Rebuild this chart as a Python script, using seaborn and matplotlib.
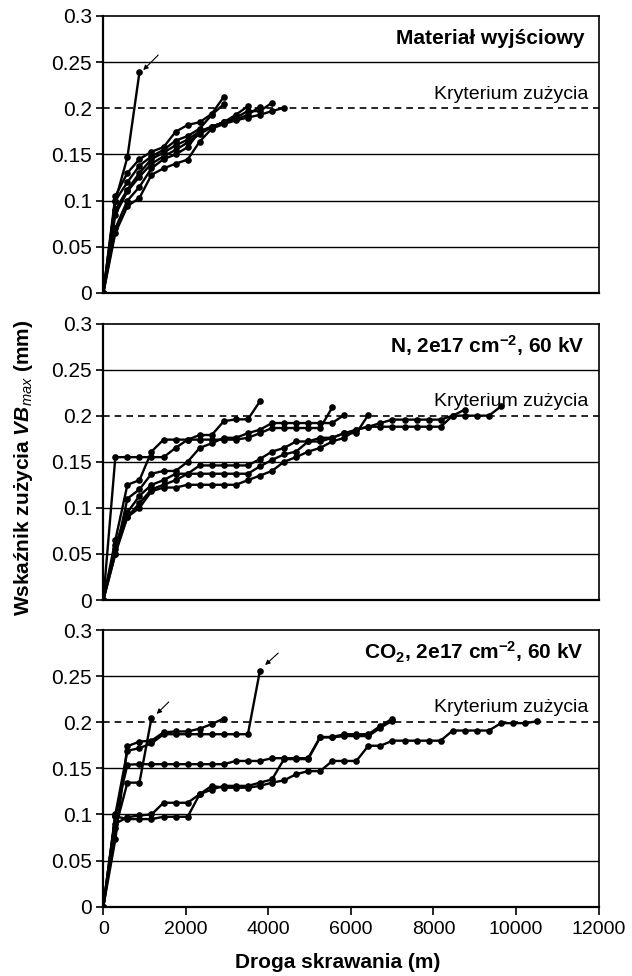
import numpy as np
import pandas as pd
import matplotlib
matplotlib.use("Agg")
import matplotlib.pyplot as plt
import seaborn as sns

# ---------------- data ----------------
# Panel 1: Materiał wyjściowy
t1_x = [0, 292, 584, 876]
t1_y = [0, 0.100, 0.147, 0.239]
t2_x = [0, 292, 584, 876, 1168, 1460, 1752, 2044, 2336, 2628, 2920]
t2_y = [0, 0.105, 0.130, 0.145, 0.153, 0.158, 0.1746, 0.182, 0.185, 0.194, 0.2125]
t3_x = [0, 292, 584, 876, 1168, 1460, 1752, 2044, 2336, 2628, 2920]
t3_y = [0, 0.100, 0.120, 0.138, 0.148, 0.155, 0.165, 0.170, 0.178, 0.193, 0.2045]
t4_x = [0, 292, 584, 876, 1168, 1460, 1752, 2044, 2336, 2628, 2920, 3212, 3504]
t4_y = [0, 0.090, 0.112, 0.130, 0.145, 0.152, 0.160, 0.166, 0.175, 0.180, 0.185, 0.193, 0.2024]
t5_x = [0, 292, 584, 876, 1168, 1460, 1752, 2044, 2336, 2628, 2920, 3212, 3504, 3796]
t5_y = [0, 0.085, 0.110, 0.126, 0.140, 0.148, 0.155, 0.163, 0.172, 0.180, 0.185, 0.188, 0.193, 0.2017]
t6_x = [0, 292, 584, 876, 1168, 1460, 1752, 2044, 2336, 2628, 2920, 3212, 3504, 3796, 4088]
t6_y = [0, 0.070, 0.100, 0.115, 0.135, 0.145, 0.150, 0.158, 0.175, 0.180, 0.185, 0.190, 0.197, 0.197, 0.206]
t7_x = [0, 292, 584, 876, 1168, 1460, 1752, 2044, 2336, 2628, 2920, 3212, 3504, 3796, 4088, 4380]
t7_y = [0, 0.065, 0.094, 0.103, 0.128, 0.135, 0.140, 0.1445, 0.164, 0.178, 0.183, 0.187, 0.190, 0.193, 0.197, 0.2006]

# Panel 2: N, 2e17 cm-2, 60 kV
m1_x = [0, 292, 584, 876, 1168, 1460, 1752, 2044, 2336, 2628, 2920, 3212, 3504, 3796]
m1_y = [0, 0.065, 0.125, 0.130, 0.161, 0.174, 0.174, 0.174, 0.179, 0.179, 0.194, 0.196, 0.196, 0.2156]
m2_x = [0, 292, 584, 876, 1168, 1460, 1752, 2044, 2336, 2628, 2920, 3212, 3504, 3796, 4088,
        4380, 4672, 4964, 5256, 5548]
m2_y = [0, 0.155, 0.155, 0.155, 0.155, 0.155, 0.165, 0.174, 0.174, 0.174, 0.174, 0.174, 0.176,
        0.181, 0.1866, 0.1866, 0.1866, 0.1866, 0.1866, 0.209]
m3_x = [0, 292, 584, 876, 1168, 1460, 1752, 2044, 2336, 2628, 2920, 3212, 3504, 3796, 4088,
        4380, 4672, 4964, 5256, 5548, 5840]
m3_y = [0, 0.050, 0.110, 0.120, 0.137, 0.140, 0.140, 0.150, 0.165, 0.170, 0.176, 0.176, 0.181,
        0.1848, 0.192, 0.192, 0.192, 0.192, 0.192, 0.192, 0.201]
m4_x = [0, 292, 584, 876, 1168, 1460, 1752, 2044, 2336, 2628, 2920, 3212, 3504, 3796, 4088,
        4380, 4672, 4964, 5256, 5548, 5840, 6132, 6424]
m4_y = [0, 0.060, 0.095, 0.113, 0.125, 0.130, 0.137, 0.137, 0.146, 0.146, 0.146, 0.146, 0.146,
        0.153, 0.161, 0.165, 0.172, 0.172, 0.176, 0.176, 0.181, 0.181, 0.201]
m5_x = [0, 292, 584, 876, 1168, 1460, 1752, 2044, 2336, 2628, 2920, 3212, 3504, 3796, 4088,
        4380, 4672, 4964, 5256, 5548, 5840, 6132, 6424, 6716, 7008, 7300, 7592, 7884, 8176,
        8468, 8760]
m5_y = [0, 0.055, 0.090, 0.105, 0.120, 0.125, 0.130, 0.137, 0.137, 0.137, 0.137, 0.137, 0.137,
        0.145, 0.152, 0.158, 0.161, 0.172, 0.172, 0.176, 0.181, 0.1848, 0.188, 0.192, 0.1957,
        0.1957, 0.1957, 0.1957, 0.1957, 0.200, 0.2065]
m6_x = [0, 292, 584, 876, 1168, 1460, 1752, 2044, 2336, 2628, 2920, 3212, 3504, 3796, 4088,
        4380, 4672, 4964, 5256, 5548, 5840, 6132, 6424, 6716, 7008, 7300, 7592, 7884, 8176,
        8468, 8760, 9052, 9344, 9636]
m6_y = [0, 0.050, 0.090, 0.100, 0.118, 0.122, 0.122, 0.125, 0.125, 0.125, 0.125, 0.125, 0.130,
        0.135, 0.140, 0.150, 0.155, 0.161, 0.165, 0.172, 0.176, 0.1848, 0.188, 0.188, 0.188,
        0.188, 0.188, 0.188, 0.188, 0.200, 0.200, 0.200, 0.200, 0.210]

# Panel 3: CO2, 2e17 cm-2, 60 kV
b1_x = [0, 292, 584, 876, 1168]
b1_y = [0, 0.085, 0.1345, 0.1345, 0.2047]
b2_x = [0, 292, 584, 876, 1168, 1460, 1752, 2044, 2336, 2628, 2920, 3212, 3504, 3796]
b2_y = [0, 0.100, 0.169, 0.172, 0.177, 0.187, 0.187, 0.187, 0.187, 0.187, 0.187, 0.187, 0.187, 0.256]
b3_x = [0, 292, 584, 876, 1168, 1460, 1752, 2044, 2336, 2628, 2920]
b3_y = [0, 0.073, 0.174, 0.179, 0.180, 0.189, 0.190, 0.190, 0.193, 0.198, 0.204]
b4_x = [0, 292, 584, 876, 1168, 1460, 1752, 2044, 2336, 2628, 2920, 3212, 3504, 3796, 4088,
        4380, 4672, 4964, 5256, 5548, 5840, 6132, 6424, 6716, 7008]
b4_y = [0, 0.098, 0.154, 0.1545, 0.1545, 0.1545, 0.1545, 0.1545, 0.1545, 0.1545, 0.1545, 0.158,
        0.158, 0.158, 0.161, 0.161, 0.161, 0.161, 0.184, 0.184, 0.187, 0.187, 0.187, 0.196, 0.204]
b5_x = [0, 292, 584, 876, 1168, 1460, 1752, 2044, 2336, 2628, 2920, 3212, 3504, 3796, 4088,
        4380, 4672, 4964, 5256, 5548, 5840, 6132, 6424, 6716, 7008, 7300, 7592, 7884, 8176,
        8468, 8760, 9052, 9344, 9636, 9928, 10220, 10512]
b5_y = [0, 0.098, 0.095, 0.095, 0.095, 0.0975, 0.0975, 0.0975, 0.122, 0.131, 0.129, 0.129, 0.129,
        0.131, 0.1345, 0.137, 0.1436, 0.147, 0.147, 0.158, 0.158, 0.158, 0.1745, 0.1745, 0.180,
        0.180, 0.180, 0.180, 0.180, 0.191, 0.191, 0.191, 0.191, 0.199, 0.199, 0.199, 0.201]
b6_x = [0, 292, 584, 876, 1168, 1460, 1752, 2044, 2336, 2628, 2920, 3212, 3504, 3796, 4088,
        4380, 4672, 4964, 5256, 5548, 5840, 6132, 6424, 6716, 7008]
b6_y = [0, 0.090, 0.097, 0.099, 0.100, 0.1127, 0.1127, 0.1127, 0.122, 0.127, 0.131, 0.131, 0.131,
        0.1345, 0.138, 0.160, 0.160, 0.160, 0.1836, 0.1836, 0.185, 0.185, 0.185, 0.194, 0.2018]

panel_titles = ["Materiał wyjściowy",
                r"N, 2e17 cm$^{\mathbf{-2}}$, 60 kV",
                r"CO$_{\mathbf{2}}$, 2e17 cm$^{\mathbf{-2}}$, 60 kV"]
criterion_label = "Kryterium zużycia"
criterion_value = 0.2
y_ticks = [0, 0.05, 0.1, 0.15, 0.2, 0.25, 0.3]
y_ticklabels = ["0", "0.05", "0.1", "0.15", "0.2", "0.25", "0.3"]
grid_levels = [0.05, 0.1, 0.15, 0.25]
x_ticks = [0, 2000, 4000, 6000, 8000, 10000, 12000]
x_label = "Droga skrawania (m)"
y_label = r"Wskaźnik zużycia $\mathbfit{VB}_{\mathit{max}}$ (mm)"

# arrows marking failures: (tip_x, tip_y, tail_x, tail_y)
arrows = [
    [(967, 0.2414, 1330, 0.2577)],
    [],
    [(1293, 0.209, 1586, 0.222), (3922, 0.262, 4239, 0.275)],
]

panels = [
    [(t1_x, t1_y), (t2_x, t2_y), (t3_x, t3_y), (t4_x, t4_y), (t5_x, t5_y), (t6_x, t6_y), (t7_x, t7_y)],
    [(m1_x, m1_y), (m2_x, m2_y), (m3_x, m3_y), (m4_x, m4_y), (m5_x, m5_y), (m6_x, m6_y)],
    [(b1_x, b1_y), (b2_x, b2_y), (b3_x, b3_y), (b4_x, b4_y), (b5_x, b5_y), (b6_x, b6_y)],
]

# ---------------- style ----------------
sns.set_theme(style="white")
plt.rcParams["font.family"] = ["Liberation Sans", "DejaVu Sans"]
plt.rcParams["mathtext.fontset"] = "custom"
plt.rcParams["mathtext.rm"] = "Liberation Sans"
plt.rcParams["mathtext.it"] = "Liberation Sans:italic"
plt.rcParams["mathtext.bf"] = "Liberation Sans:bold"
plt.rcParams["mathtext.bfit"] = "Liberation Sans:italic:bold"
plt.rcParams["mathtext.sf"] = "Liberation Sans"

fig = plt.figure(figsize=(6.32, 9.76), dpi=100)
W, H = 632.0, 976.0
left_px, right_px = 103.3, 598.5
rects = [(16, 293), (323.5, 600), (630, 906.7)]

for i, (top_px, bot_px) in enumerate(rects):
    ax = fig.add_axes([left_px / W, 1 - bot_px / H, (right_px - left_px) / W, (bot_px - top_px) / H])
    rows = []
    for k, (xs, ys) in enumerate(panels[i]):
        for xv, yv in zip(xs, ys):
            rows.append({"x": xv, "y": yv, "series": k})
    df = pd.DataFrame(rows)

    ax.grid(False)
    for g in grid_levels:
        ax.axhline(g, color="black", linewidth=1.0, zorder=1)
    ax.axhline(criterion_value, color="black", linestyle=(0, (4, 3)), linewidth=1.2, zorder=1.5)

    sns.lineplot(data=df, x="x", y="y", units="series", estimator=None, sort=False,
                 color="black", linewidth=1.7, marker="o", markersize=4.8,
                 markeredgecolor="black", markeredgewidth=0, legend=False, ax=ax, zorder=3)

    for (tx, ty, sx, sy) in arrows[i]:
        ax.annotate("", xy=(tx, ty), xytext=(sx, sy),
                    arrowprops=dict(arrowstyle="-|>", color="black", lw=0.8,
                                    mutation_scale=7, shrinkA=0, shrinkB=0))

    ax.set_xlim(0, 12000)
    ax.set_ylim(0, 0.3)
    ax.set_yticks(y_ticks)
    ax.set_yticklabels(y_ticklabels)
    ax.set_xlabel("")
    ax.set_ylabel("")
    ax.tick_params(axis="y", which="both", left=True, direction="out", length=5, width=1.2,
                   labelsize=15, pad=3, colors="black")
    if i == 2:
        ax.set_xticks(x_ticks)
        ax.set_xticklabels([str(v) for v in x_ticks])
        ax.tick_params(axis="x", bottom=True, direction="out", length=6, width=1.2,
                       labelsize=14, pad=4, colors="black")
    else:
        ax.set_xticks(x_ticks)
        ax.tick_params(axis="x", bottom=False, labelbottom=False)

    for side in ["left", "bottom"]:
        ax.spines[side].set_linewidth(1.6)
        ax.spines[side].set_color("black")
    for side in ["top", "right"]:
        ax.spines[side].set_linewidth(1.2)
        ax.spines[side].set_color("black")

    ax.text(11650, 0.276, panel_titles[i], ha="right", va="center",
            fontsize=15, fontweight="bold", color="black")
    ax.text(11760, 0.2155, criterion_label, ha="right", va="center",
            fontsize=14, color="black")

fig.text(24 / W, 1 - 468 / H, y_label, rotation=90, ha="center", va="center",
         fontsize=15, fontweight="bold", color="black")
fig.text(338 / W, 1 - 963 / H, x_label, ha="center", va="center",
         fontsize=15, fontweight="bold", color="black")

fig.savefig("out.png", dpi=100, facecolor="white")
